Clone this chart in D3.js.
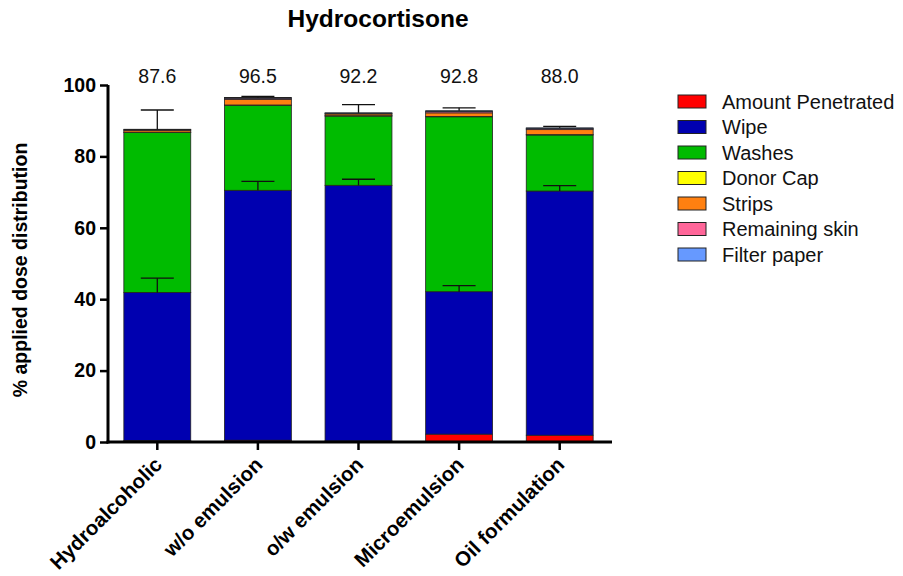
<!DOCTYPE html>
<html>
<head>
  <meta charset="utf-8">
  <title>Hydrocortisone</title>
  <style>
    body { margin: 0; background: #fff; }
    text { font-family: "Liberation Sans", Arial, sans-serif; }
  </style>
</head>
<body>
  <script src="https://d3js.org/d3.v7.min.js"></script>
  <script>
    var formulations = ["Hydroalcoholic", "w/o emulsion", "o/w emulsion", "Microemulsion", "Oil formulation"];
    var seriesNames = ["Amount Penetrated", "Wipe", "Washes", "Donor Cap", "Strips", "Remaining skin", "Filter paper"];
    var seriesColors = ["#ff0000", "#0000b0", "#00bb00", "#ffff00", "#ff8010", "#ff6699", "#6699ff"];

    // values per series, one per formulation
    var amountPenetrated = [0.4, 0.5, 0.3, 2.2, 1.9];
    var wipe = [41.5, 70.0, 71.6, 39.9, 68.4];
    var washes = [44.8, 23.8, 19.4, 49.0, 15.7];
    var donorCap = [0.1, 0.1, 0.1, 0.1, 0.1];
    var strips = [0.5, 1.6, 0.5, 1.0, 1.4];
    var remainingSkin = [0.2, 0.3, 0.2, 0.4, 0.3];
    var filterPaper = [0.1, 0.2, 0.1, 0.2, 0.2];

    var totalLabels = ["87.6", "96.5", "92.2", "92.8", "88.0"];
    var wipeErr = [4.0, 2.5, 1.7, 1.7, 1.5];
    var totalErr = [5.4, 0.3, 2.3, 0.8, 0.4];
    var yTicks = [0, 20, 40, 60, 80, 100];

    var seriesValues = [amountPenetrated, wipe, washes, donorCap, strips, remainingSkin, filterPaper];

    var W = 903, H = 576;
    var svg = d3.select("body").append("svg")
      .attr("width", W)
      .attr("height", H);

    var x = d3.scaleBand()
      .domain(formulations)
      .range([107, 610])
      .paddingInner(0.335)
      .paddingOuter(0.1675);

    var y = d3.scaleLinear()
      .domain([0, 100])
      .range([442, 85]);

    // build table for stack
    var table = formulations.map(function(f, i) {
      var row = { name: f };
      seriesNames.forEach(function(s, j) { row[s] = seriesValues[j][i]; });
      return row;
    });
    var stacked = d3.stack().keys(seriesNames)(table);

    var layers = svg.append("g").selectAll("g")
      .data(stacked)
      .enter().append("g")
      .attr("fill", function(d, i) { return seriesColors[i]; });

    layers.selectAll("rect")
      .data(function(d) { return d; })
      .enter().append("rect")
      .attr("x", function(d) { return x(d.data.name); })
      .attr("y", function(d) { return y(d[1]); })
      .attr("width", x.bandwidth())
      .attr("height", function(d) { return y(d[0]) - y(d[1]); })
      .attr("stroke", "#222")
      .attr("stroke-width", 0.8);

    // error bars (upper only)
    var wipeTop = stacked[1];
    var totalTop = stacked[stacked.length - 1];
    var errs = [];
    formulations.forEach(function(f, i) {
      errs.push({ name: f, v: wipeTop[i][1], e: wipeErr[i] });
      errs.push({ name: f, v: totalTop[i][1], e: totalErr[i] });
    });
    var eg = svg.append("g").attr("stroke", "#111").attr("stroke-width", 1.3);
    eg.selectAll(".ev").data(errs).enter().append("line")
      .attr("x1", function(d) { return x(d.name) + x.bandwidth() / 2; })
      .attr("x2", function(d) { return x(d.name) + x.bandwidth() / 2; })
      .attr("y1", function(d) { return y(d.v); })
      .attr("y2", function(d) { return y(d.v + d.e); });
    eg.selectAll(".ec").data(errs).enter().append("line")
      .attr("x1", function(d) { return x(d.name) + x.bandwidth() / 2 - 16.5; })
      .attr("x2", function(d) { return x(d.name) + x.bandwidth() / 2 + 16.5; })
      .attr("y1", function(d) { return y(d.v + d.e); })
      .attr("y2", function(d) { return y(d.v + d.e); });

    // total labels
    svg.append("g").selectAll("text")
      .data(formulations)
      .enter().append("text")
      .attr("x", function(d) { return x(d) + x.bandwidth() / 2; })
      .attr("y", 83)
      .attr("text-anchor", "middle")
      .attr("font-size", 19.5)
      .attr("fill", "#111")
      .text(function(d, i) { return totalLabels[i]; });

    // y axis
    var yAxis = svg.append("g")
      .attr("transform", "translate(108,0)")
      .call(d3.axisLeft(y).tickValues(yTicks).tickSize(8).tickPadding(4));
    yAxis.select(".domain").attr("stroke", "#000").attr("stroke-width", 3)
      .attr("d", "M0," + y(100) + "V" + (y(0) + 1.5));
    yAxis.selectAll(".tick line").attr("stroke", "#000").attr("stroke-width", 2.5);
    yAxis.selectAll(".tick text")
      .attr("font-size", 19.5).attr("font-weight", "bold").attr("fill", "#000")
      .attr("font-family", "Liberation Sans, Arial, sans-serif");

    // x axis
    var xAxis = svg.append("g")
      .attr("transform", "translate(0," + y(0) + ")")
      .call(d3.axisBottom(x).tickSize(8).tickPadding(4));
    xAxis.select(".domain").attr("stroke", "#000").attr("stroke-width", 3)
      .attr("d", "M106.5,0H612");
    xAxis.selectAll(".tick line").attr("stroke", "#000").attr("stroke-width", 2.5);
    xAxis.selectAll(".tick text")
      .attr("font-size", 20.5).attr("font-weight", "bold").attr("fill", "#000")
      .attr("font-family", "Liberation Sans, Arial, sans-serif")
      .attr("text-anchor", "end")
      .attr("x", 0).attr("y", 0).attr("dy", 0)
      .attr("transform", "translate(6,24) rotate(-45)");

    // title
    svg.append("text")
      .attr("x", 378).attr("y", 27)
      .attr("text-anchor", "middle")
      .attr("font-size", 24.5).attr("font-weight", "bold")
      .text("Hydrocortisone");

    // y label
    svg.append("text")
      .attr("transform", "translate(27,270) rotate(-90)")
      .attr("text-anchor", "middle")
      .attr("font-size", 19.5).attr("font-weight", "bold")
      .text("% applied dose distribution");

    // legend
    var legend = svg.append("g").selectAll("g")
      .data(seriesNames)
      .enter().append("g")
      .attr("transform", function(d, i) { return "translate(678," + (95 + i * 25.5) + ")"; });
    legend.append("rect")
      .attr("width", 28).attr("height", 13)
      .attr("fill", function(d, i) { return seriesColors[i]; })
      .attr("stroke", "#222").attr("stroke-width", 1);
    legend.append("text")
      .attr("x", 44).attr("y", 13.5)
      .attr("font-size", 20).attr("fill", "#111")
      .text(function(d) { return d; });
  </script>
</body>
</html>
